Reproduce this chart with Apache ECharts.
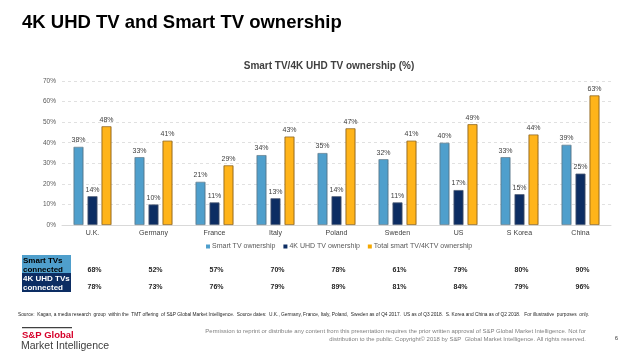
<!DOCTYPE html>
<html><head><meta charset="utf-8">
<script src="https://cdn.jsdelivr.net/npm/echarts@6/dist/echarts.min.js"></script>
<style>html,body{margin:0;padding:0;background:#fff}#c{width:640px;height:360px}</style>
</head><body><div id="c"></div>
<script>
var categories = ['U.K.', 'Germany', 'France', 'Italy', 'Poland', 'Sweden', 'US', 'S Korea', 'China'];
var smartTV = [38, 33, 21, 34, 35, 32, 40, 33, 39];
var uhdTV = [14, 10, 11, 13, 14, 11, 17, 15, 25];
var totalTV = [48, 41, 29, 43, 47, 41, 49, 44, 63];
var smartConnected = [68, 52, 57, 70, 78, 61, 79, 80, 90];
var uhdConnected = [78, 73, 76, 79, 89, 81, 84, 79, 96];
var seriesNames = ['Smart TV ownership', '4K UHD TV ownership', 'Total smart TV/4KTV ownership'];
var yTicks = [0, 10, 20, 30, 40, 50, 60, 70];

var FONT = '"Liberation Sans", Arial, sans-serif';
function grad(a, b, c) {
  return new echarts.graphic.LinearGradient(0, 0, 1, 0, [
    {offset: 0, color: a}, {offset: 0.15, color: b}, {offset: 0.85, color: b}, {offset: 1, color: c}]);
}
var cols = [
  {fill: grad('#3c7ea6', '#4f9fcc', '#2f6d93'), border: '#6c8796', legend: '#4f9fcc'},
  {fill: grad('#0a2350', '#0c2d63', '#061a3d'), border: '#54627a', legend: '#0c2d63'},
  {fill: grad('#d98c00', '#ffb41a', '#c47c00'), border: '#8f6a2a', legend: '#f5a800'}
];
var dataSets = [smartTV, uhdTV, totalTV];

var chart = echarts.init(document.getElementById('c'), null, {renderer: 'canvas'});
var series = dataSets.map(function (d, i) {
  return {
    name: seriesNames[i], type: 'bar', data: d,
    barWidth: 10, barGap: '40%',
    itemStyle: {color: cols[i].fill, borderColor: cols[i].border, borderWidth: 0.8},
    label: {show: true, position: 'top', distance: 3, formatter: '{c}%', fontSize: 7, color: '#404040', fontFamily: FONT}
  };
});

chart.setOption({
  animation: false,
  color: cols.map(function (c) { return c.legend; }),
  grid: {left: 62, right: 29, top: 81, bottom: 135},
  title: [
    {text: '4K UHD TV and Smart TV ownership', left: 22, top: 13, padding: 0,
     textStyle: {fontSize: 18.5, fontWeight: 'bold', color: '#000', fontFamily: FONT}},
    {text: 'Smart TV/4K UHD TV ownership (%)', left: 329, textAlign: 'center', top: 61, padding: 0,
     textStyle: {fontSize: 10, fontWeight: 'bold', color: '#404040', fontFamily: FONT}}
  ],
  legend: {
    left: 201, top: 238, itemWidth: 4, itemHeight: 4, itemGap: 8,
    icon: 'rect',
    textStyle: {fontSize: 7, color: '#595959', fontFamily: FONT, padding: [0, 0, 0, -3]},
    data: seriesNames.map(function (n, i) { return {name: n, itemStyle: {color: cols[i].legend, borderWidth: 0}}; })
  },
  xAxis: {
    type: 'category', data: categories,
    axisLine: {lineStyle: {color: '#d9d9d9'}},
    axisTick: {show: false},
    axisLabel: {fontSize: 7, color: '#404040', fontFamily: FONT, margin: 5}
  },
  yAxis: {
    type: 'value', min: 0, max: 70, interval: 10,
    axisLabel: {formatter: '{value}%', fontSize: 6.5, color: '#595959', fontFamily: FONT, margin: 6},
    axisLine: {show: false}, axisTick: {show: false},
    splitLine: {lineStyle: {color: '#d9d9d9', type: [3, 3], width: 0.8}}
  },
  series: series
});

// Table and footer
var g = [];
g.push({type: 'rect', shape: {x: 22, y: 255, width: 49, height: 18}, style: {fill: '#4f9fcc'}});
g.push({type: 'rect', shape: {x: 22, y: 273, width: 49, height: 19}, style: {fill: '#0c2d63'}});
g.push({type: 'text', x: 23, y: 256, style: {text: 'Smart TVs\nconnected', fontFamily: FONT, fontSize: 8, fontWeight: 'bold', fill: '#000', lineHeight: 9}});
g.push({type: 'text', x: 23, y: 274, style: {text: '4K UHD TVs\nconnected', fontFamily: FONT, fontSize: 8, fontWeight: 'bold', fill: '#fff', lineHeight: 9}});
categories.forEach(function (c, i) {
  var px = chart.convertToPixel({xAxisIndex: 0}, c);
  g.push({type: 'text', x: px + 2, y: 270, style: {text: smartConnected[i] + '%', fontFamily: FONT, fontSize: 7, fontWeight: 'bold', fill: '#262626', align: 'center', verticalAlign: 'middle'}});
  g.push({type: 'text', x: px + 2, y: 287, style: {text: uhdConnected[i] + '%', fontFamily: FONT, fontSize: 7, fontWeight: 'bold', fill: '#262626', align: 'center', verticalAlign: 'middle'}});
});
g.push({type: 'text', x: 18, y: 312, style: {text: 'Source:  Kagan, a media research  group  within the  TMT offering  of S&P Global Market Intelligence.  Source dates:  U.K., Germany, France, Italy, Poland,  Sweden as of Q4 2017.  US as of Q3 2018.  S. Korea and China as of Q2 2018.   For illustrative  purposes  only.', fontFamily: FONT, fontSize: 4.8, fill: '#262626'}});
g.push({type: 'rect', shape: {x: 22, y: 327, width: 50, height: 1.2}, style: {fill: '#404040'}});
g.push({type: 'text', x: 22, y: 330, style: {text: 'S&P Global', fontFamily: FONT, fontSize: 9.5, fontWeight: 'bold', fill: '#d6002a'}});
g.push({type: 'text', x: 21, y: 341, style: {text: 'Market Intelligence', fontFamily: FONT, fontSize: 10.5, fill: '#404040'}});
g.push({type: 'text', x: 586, y: 328, scaleX: 1.19, style: {text: 'Permission to reprint or distribute any content from this presentation requires the prior written approval of S&P Global Market Intelligence. Not for\ndistribution to the public. Copyright\u00a9 2018 by S&P  Global Market Intelligence. All rights reserved.', fontFamily: FONT, fontSize: 5, fill: '#7f7f7f', align: 'right', lineHeight: 7.5}});
g.push({type: 'text', x: 618, y: 335, style: {text: '6', fontFamily: FONT, fontSize: 6, fill: '#404040', align: 'right'}});
chart.setOption({graphic: g});
</script></body></html>
